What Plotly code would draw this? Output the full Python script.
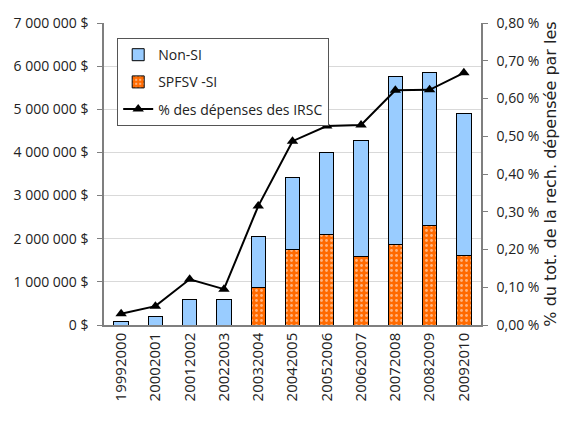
"""Research spending chart: stacked bars (Non-SI / SPFSV-SI) with % line."""

import plotly.graph_objects as go


years = [
    "19992000", "20002001", "20012002", "20022003", "20032004", "20042005",
    "20052006", "20062007", "20072008", "20082009", "20092010",
]
spfsv_si = [0, 0, 0, 0, 865000, 1760000, 2100000, 1580000, 1860000, 2300000, 1600000]
non_si = [70000, 190000, 600000, 580000, 1185000, 1660000, 1900000, 2690000,
          3900000, 3560000, 3300000]
pct_irsc = [0.03, 0.05, 0.121, 0.095, 0.315, 0.487, 0.527, 0.53, 0.622, 0.623, 0.668]

FONT = "Open Sans"
ORANGE = "#ff6a00"
BLUE = "#99ccff"
AXIS = "#7f7f7f"

fig = go.Figure()

fig.add_trace(
    go.Bar(
        x=years,
        y=spfsv_si,
        name="SPFSV -SI",
        marker=dict(
            color=ORANGE,
            line=dict(color="black", width=1),
            pattern=dict(shape=".", fgcolor="white", bgcolor=ORANGE,
                         size=5, solidity=0.25),
        ),
        width=0.42,
        legendrank=2,
        legendgroup="b",
    )
)

fig.add_trace(
    go.Bar(
        x=years,
        y=non_si,
        name="Non-SI",
        marker=dict(color=BLUE, line=dict(color="black", width=1)),
        width=0.42,
        legendrank=1,
        legendgroup="a",
    )
)

fig.add_trace(
    go.Scatter(
        x=years,
        y=pct_irsc,
        name="% des dépenses des IRSC",
        mode="lines+markers",
        line=dict(color="black", width=2),
        marker=dict(symbol="triangle-up", size=10, color="black"),
        yaxis="y2",
        legendrank=3,
        legendgroup="c",
    )
)

# the page body has an 8px margin, so margins are trimmed to compensate
fig.update_layout(
    width=580,
    height=425,
    barmode="stack",
    separators=", ",
    plot_bgcolor="white",
    paper_bgcolor="white",
    font=dict(family=FONT, size=14, color="#222"),
    margin=dict(l=96, r=107, t=15, b=108),
    xaxis=dict(
        range=[-0.5, len(years) - 0.5],
        tickangle=-90,
        showline=True,
        linecolor=AXIS,
        linewidth=1.5,
        ticks="",
        tickfont=dict(size=15),
        automargin=False,
    ),
    yaxis=dict(
        range=[0, 7000000],
        dtick=1000000,
        tickformat=",.0f",
        ticksuffix=" $",
        showgrid=True,
        gridcolor="#d9d9d9",
        showline=True,
        linecolor=AXIS,
        linewidth=1.5,
        ticks="outside",
        ticklen=5,
        tickcolor=AXIS,
        ticklabelstandoff=6,
        zeroline=False,
        automargin=False,
    ),
    yaxis2=dict(
        overlaying="y",
        side="right",
        range=[0, 0.8],
        dtick=0.1,
        tickformat=".2f",
        ticksuffix=" %",
        showgrid=False,
        showline=True,
        linecolor=AXIS,
        linewidth=1.5,
        ticks="outside",
        ticklen=5,
        tickcolor=AXIS,
        ticklabelstandoff=6,
        zeroline=False,
        automargin=False,
        title=dict(text="% du tot. de la rech. dépensée par les",
                   font=dict(family="DejaVu Sans", size=16), standoff=6),
    ),
    legend=dict(
        x=0.035,
        y=0.95,
        xanchor="left",
        yanchor="top",
        traceorder="grouped",
        bgcolor="white",
        bordercolor="#555",
        borderwidth=1,
        font=dict(size=14),
        tracegroupgap=6,
    ),
    showlegend=True,
)

fig.write_html("out.html")
